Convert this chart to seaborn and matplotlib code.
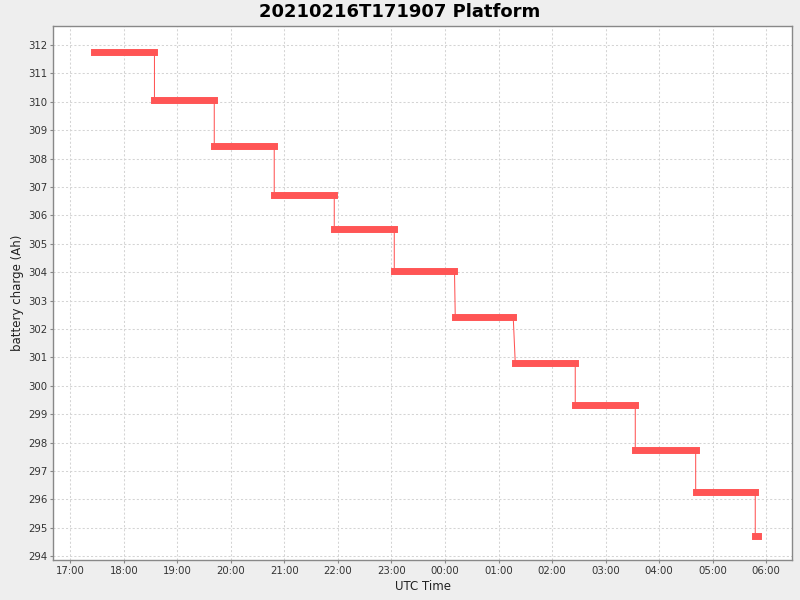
import matplotlib
matplotlib.use("Agg")
import matplotlib.pyplot as plt
import matplotlib.dates as mdates
import pandas as pd
import seaborn as sns

# battery charge levels, each held between a start and an end time (UTC)
starts = ["2021-02-16 17:27:07", "2021-02-16 18:34:23", "2021-02-16 19:41:24",
          "2021-02-16 20:48:36", "2021-02-16 21:55:52", "2021-02-16 23:03:07",
          "2021-02-17 00:11:28", "2021-02-17 01:18:40", "2021-02-17 02:25:55",
          "2021-02-17 03:33:11", "2021-02-17 04:40:52", "2021-02-17 05:47:38"]
ends = ["2021-02-16 18:34:23", "2021-02-16 19:41:24", "2021-02-16 20:48:36",
        "2021-02-16 21:55:52", "2021-02-16 23:03:07", "2021-02-17 00:10:34",
        "2021-02-17 01:16:26", "2021-02-17 02:25:55", "2021-02-17 03:33:11",
        "2021-02-17 04:40:52", "2021-02-17 05:47:38", "2021-02-17 05:51:14"]
charge = [311.77, 310.08, 308.43, 306.71, 305.54, 304.06,
          302.41, 300.82, 299.31, 297.73, 296.28, 294.71]

title = "20210216T171907 Platform"
x_range = ("2021-02-16 16:41:00", "2021-02-17 06:29:10")
y_range = (293.87, 312.67)

RED = "#FF5555"

# one row per segment end point, in time order
rows = []
for i, (s, e, v) in enumerate(zip(starts, ends, charge)):
    rows.append({"seg": i, "time": pd.Timestamp(s), "charge": v})
    rows.append({"seg": i, "time": pd.Timestamp(e), "charge": v})
df = pd.DataFrame(rows)

sns.set_theme(style="whitegrid")
plt.rcParams["font.family"] = ["DejaVu Sans"]

fig = plt.figure(figsize=(8, 6), dpi=100, facecolor="#EEEEEE")
ax = fig.add_axes([0.0666, 0.0667, 0.9238, 0.89])
ax.set_facecolor("white")

# thin connecting line through all points
sns.lineplot(data=df, x="time", y="charge", estimator=None, sort=False,
             color=RED, lw=0.75, ax=ax)
# thick bars for each held level
sns.lineplot(data=df, x="time", y="charge", units="seg", estimator=None,
             sort=False, color=RED, lw=5.0, solid_capstyle="projecting", ax=ax)

ax.set_xlim(pd.Timestamp(x_range[0]), pd.Timestamp(x_range[1]))
ax.set_ylim(*y_range)
ax.xaxis.set_major_locator(mdates.HourLocator())
ax.xaxis.set_major_formatter(mdates.DateFormatter("%H:%M"))
ax.yaxis.set_major_locator(matplotlib.ticker.MultipleLocator(1))

ax.grid(True, color="#D4D4D4", linestyle=(0, (2, 2)), linewidth=0.75)
for sp in ax.spines.values():
    sp.set_visible(True)
    sp.set_color("#888888")
    sp.set_linewidth(1.0)
ax.tick_params(axis="both", which="major", direction="out", length=2.5,
               width=0.8, color="#888888", labelsize=7.3, labelcolor="#333333",
               pad=1.5, left=True, bottom=True)

ax.set_xlabel("UTC Time", fontsize=8.5, color="#222222", labelpad=3)
ax.set_ylabel("battery charge (Ah)", fontsize=8.5, color="#222222", labelpad=3)
fig.text(0.5, 1 - 12 / 600, title, ha="center", va="center",
         fontsize=13, fontweight="bold", color="black")

fig.savefig("out.png", dpi=100, facecolor=fig.get_facecolor())
